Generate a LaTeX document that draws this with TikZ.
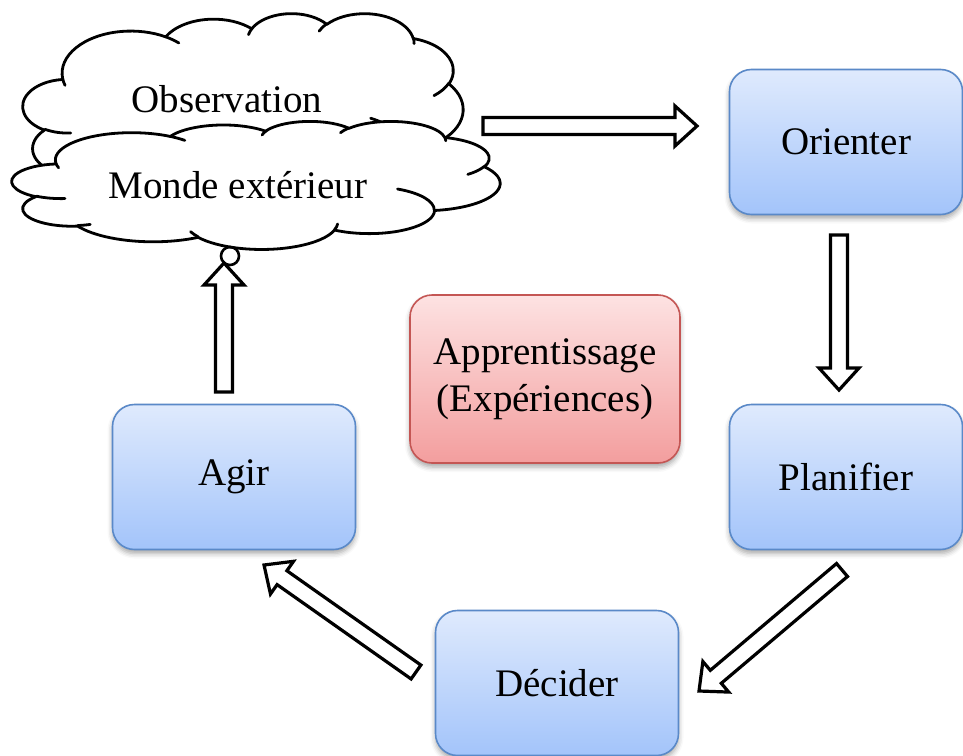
\documentclass[tikz,border=0pt]{standalone}
\usepackage{fontspec}
\setmainfont{Liberation Serif}
\usetikzlibrary{calc,shadows.blur}

\definecolor{bluetop}{RGB}{223,234,253}
\definecolor{bluebot}{RGB}{163,196,250}
\definecolor{blueline}{RGB}{90,137,200}
\definecolor{redtop}{RGB}{253,226,226}
\definecolor{redbot}{RGB}{243,158,158}
\definecolor{redline}{RGB}{196,86,84}

\tikzset{
  stepbox/.style={rectangle, rounded corners=22pt, draw=blueline, line width=1.6pt,
    top color=bluetop, bottom color=bluebot, minimum width=243pt, minimum height=145pt,
    font=\fontsize{39}{47}\selectfont, align=center, inner sep=0pt,
    blur shadow={shadow xshift=0pt, shadow yshift=-4pt, shadow blur radius=5pt, shadow opacity=35}},
  learnbox/.style={stepbox, draw=redline, top color=redtop, bottom color=redbot},
  cloudline/.style={draw=black, line width=2.8pt, line join=round},
  cloudtext/.style={font=\fontsize{39}{47}\selectfont, inner sep=0pt},
  barrow/.style={draw=black, line width=3.2pt, fill=white, line join=miter},
  ringdot/.style={circle, draw=black, line width=2.6pt, minimum size=18pt, inner sep=0pt},
  % elliptic arc given by radii, start angle and sweep (angles measured along the ray)
  carc/.style n args={4}{insert path={
    arc[x radius=#1, y radius=#2,
        start angle={atan2((#1)*sin(#3),(#2)*cos(#3))},
        delta angle={mod(atan2((#1)*sin((#3)+(#4)),(#2)*cos((#3)+(#4)))
                     - atan2((#1)*sin(#3),(#2)*cos(#3)) + 720, 360)}]}},
}

% cloud outline in a 432 x 432 frame, scaled to width #4 and height #5 at top-left (#2,#3)
\newcommand\puffcloud[5]{%
  \coordinate (#1) at ({#2+#4/2},{#3+#5/2});
  \begin{scope}[shift={(#2,#3)}, xscale=#4/432, yscale=#5/432]
    \draw[cloudline, fill=white] (39,143.7)
      [carc={67.53}{91.90}{-190.4875}{123.7805}]
      [carc={53.33}{72.67}{-144.1024}{89.9452}]
      [carc={43.65}{59.45}{-145.8079}{99.7230}]
      [carc={48.57}{65.95}{-130.9861}{117.2417}]
      [carc={53.33}{72.73}{-78.7089}{109.0269}]
      [carc={67.75}{92.20}{-46.2673}{130.2690}]
      [carc={57.85}{78.67}{0.6250}{114.0333}]
      [carc={67.52}{92.15}{22.4516}{115.1726}]
      [carc={77.20}{105.43}{66.2426}{75.7110}]
      [carc={43.60}{59.18}{-274.9421}{146.7356}]
      [carc={43.45}{59.45}{-246.8285}{152.5189}] -- cycle;
    \draw[cloudline, line cap=round]
      (46.93,261.77) [carc={43.45}{59.45}{86.7420}{26.4295}]
      (69.28,348.99) [carc={43.60}{59.18}{73.6105}{11.4475}]
      (164.78,390.90) [carc={67.52}{92.15}{137.6242}{14.0811}]
      (288.27,347.51) [carc={67.52}{92.15}{6.4533}{15.9984}]
      (341.29,229.54) [carc={57.85}{78.67}{-70.2924}{70.9174}]
      (417.98,153.54) [carc={53.33}{72.73}{30.3180}{27.7515}]
      (383.24,54.26) [carc={48.57}{65.95}{-13.7443}{14.8589}]
      (290.78,39.52) [carc={48.57}{65.95}{-149.1815}{18.1954}]
      (221.41,47.20) [carc={43.65}{59.45}{-163.4943}{17.6864}]
      (140.00,51.92) [carc={67.53}{91.90}{-66.7070}{12.3194}]
      (41.27,157.89) [carc={67.53}{91.90}{157.6544}{11.8582}];
  \end{scope}}

% hollow block arrow from #1 (tail) to #2 (tip)
\newcommand\blockarrow[2]{%
  \path coordinate (ba-c) at ($(#2)!22pt!(#1)$);
  \draw[barrow] ($(#1)!8.5pt!90:(#2)$) -- ($(ba-c)!8.5pt!-90:(#1)$)
    -- ($(ba-c)!20pt!-90:(#1)$) -- (#2) -- ($(ba-c)!20pt!90:(#1)$)
    -- ($(ba-c)!8.5pt!90:(#1)$) -- ($(#1)!8.5pt!-90:(#2)$) -- cycle;}

\begin{document}
\begin{tikzpicture}[x=1pt, y=-1pt]
\useasboundingbox (0,0) rectangle (963,755);

% clouds
\puffcloud{obs}{23}{13}{440}{198}
\puffcloud{world}{12}{121}{488}{128}
\node[cloudtext] (obsText) at (227,99) {Observation};
\node[cloudtext] (worldText) at (238,185) {Monde extérieur};

% process boxes
\node[stepbox, minimum width=233pt] (orient) at (846,142) {Orienter};
\node[stepbox, minimum width=233pt] (plan) at (846,477) {Planifier};
\node[stepbox] (decide) at (557,683) {Décider};
\node[stepbox] (act) at (234,477) {Agir};
\node[learnbox, minimum width=270pt, minimum height=168pt] (learn) at (545,379) {Apprentissage\\(Expériences)};

% arrow end points
\coordinate (a1s) at (483,126);  \coordinate (a1e) at (697,126);
\coordinate (a2s) at (839,235);  \coordinate (a2e) at (839,390);
\coordinate (a3s) at (842,570);  \coordinate (a3e) at (699,691);
\coordinate (a4s) at (416,672);  \coordinate (a4e) at (264,565);
\coordinate (a5s) at (224,392);  \coordinate (a5e) at (224,263);

\blockarrow{a1s}{a1e}
\blockarrow{a2s}{a2e}
\blockarrow{a3s}{a3e}
\blockarrow{a4s}{a4e}
\blockarrow{a5s}{a5e}

\node[ringdot] (ring) at (230,256) {};
\end{tikzpicture}
\end{document}
